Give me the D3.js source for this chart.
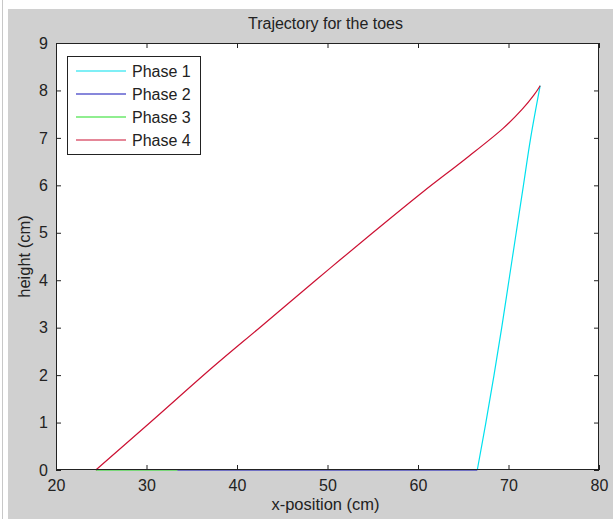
<!DOCTYPE html>
<html>
<head>
<meta charset="utf-8">
<script src="https://cdn.jsdelivr.net/npm/d3@7"></script>
<style>
  body { margin: 0; background: #fff; }
  svg { display: block; font-family: "Liberation Sans", Arial, sans-serif; }
</style>
</head>
<body>
<div id="chart"></div>
<script>
// series data (x-position cm, height cm)
var phase1X = [66.55, 67.5, 68.4, 69.25, 70.05, 70.85, 71.65, 72.45, 73.5];
var phase1Y = [0, 1, 2, 3, 4, 5, 6, 7, 8.1];
var phase2X = [33.4, 66.55];
var phase2Y = [0, 0];
var phase3X = [24.4, 33.4];
var phase3Y = [0, 0];
var phase4X = [73.5, 72.8, 71.5, 69.4, 65.2, 60.6, 55.0, 51.4, 48.7, 42.5, 37.4, 30.4, 24.4];
var phase4Y = [8.1, 7.9, 7.6, 7.2, 6.55, 5.87, 5.0, 4.43, 4.0, 3.0, 2.18, 1.0, 0];

var seriesNames = ["Phase 1", "Phase 2", "Phase 3", "Phase 4"];
var seriesColors = ["#00e0ee", "#1010b8", "#22dd22", "#cc1133"];
var xTicks = [20, 30, 40, 50, 60, 70, 80];
var yTicks = [0, 1, 2, 3, 4, 5, 6, 7, 8, 9];

var W = 613, H = 519;
var box = { left: 56, top: 43, right: 599, bottom: 470 };

var svg = d3.select("#chart").append("svg")
    .attr("width", W)
    .attr("height", H);

// figure background
svg.append("rect").attr("x", 0).attr("y", 0).attr("width", W).attr("height", H).attr("fill", "#fff");
svg.append("line").attr("x1", 2.5).attr("x2", 2.5).attr("y1", 0).attr("y2", H)
    .attr("stroke", "#c8c8c8").attr("stroke-width", 1);
svg.append("rect").attr("x", 8).attr("y", 9).attr("width", W - 8).attr("height", H - 9)
    .attr("fill", "#d0d0d0");

var x = d3.scaleLinear().domain([20, 80]).range([box.left, box.right]);
var y = d3.scaleLinear().domain([0, 9]).range([box.bottom, box.top]);

// plot area
svg.append("rect")
    .attr("x", box.left).attr("y", box.top)
    .attr("width", box.right - box.left).attr("height", box.bottom - box.top)
    .attr("fill", "#fff");

// axes, ticks inside, on all four sides
function styleAxis(g) {
    g.select(".domain").remove();
    g.selectAll(".tick line").attr("stroke", "#222");
    g.selectAll(".tick text").attr("fill", "#222").attr("font-size", 16)
        .attr("font-family", "Liberation Sans, Arial, sans-serif");
}

svg.append("g")
    .attr("transform", "translate(0," + box.bottom + ")")
    .call(d3.axisBottom(x).tickValues(xTicks).tickSize(-5).tickPadding(10))
    .call(styleAxis);

svg.append("g")
    .attr("transform", "translate(0," + box.top + ")")
    .call(d3.axisTop(x).tickValues(xTicks).tickSize(-5).tickFormat(""))
    .call(styleAxis);

svg.append("g")
    .attr("transform", "translate(" + box.left + ",0)")
    .call(d3.axisLeft(y).tickValues(yTicks).tickSize(-5).tickPadding(8))
    .call(styleAxis);

svg.append("g")
    .attr("transform", "translate(" + box.right + ",0)")
    .call(d3.axisRight(y).tickValues(yTicks).tickSize(-5).tickFormat(""))
    .call(styleAxis);

// lines
var data = [
    d3.zip(phase1X, phase1Y),
    d3.zip(phase2X, phase2Y),
    d3.zip(phase3X, phase3Y),
    d3.zip(phase4X, phase4Y)
];

var line = d3.line()
    .x(function(d) { return x(d[0]); })
    .y(function(d) { return y(d[1]); })
    .curve(d3.curveCatmullRom);

svg.selectAll(".curve")
    .data(data)
    .enter().append("path")
        .attr("class", "curve")
        .attr("fill", "none")
        .attr("stroke", function(d, i) { return seriesColors[i]; })
        .attr("stroke-width", 1.2)
        .attr("stroke-linejoin", "round")
        .attr("d", line);

// frame
svg.append("rect")
    .attr("x", box.left + 0.5).attr("y", box.top + 0.5)
    .attr("width", box.right - box.left - 1).attr("height", box.bottom - box.top - 1)
    .attr("fill", "none").attr("stroke", "#222").attr("stroke-width", 1);

// title and labels
svg.append("text")
    .attr("x", (box.left + box.right) / 2 - 2)
    .attr("y", 29)
    .attr("text-anchor", "middle")
    .attr("font-size", 16)
    .attr("fill", "#222")
    .text("Trajectory for the toes");

svg.append("text")
    .attr("x", (box.left + box.right) / 2 - 2)
    .attr("y", 510)
    .attr("text-anchor", "middle")
    .attr("font-size", 16.5)
    .attr("fill", "#222")
    .text("x-position (cm)");

svg.append("text")
    .attr("transform", "translate(30," + ((box.top + box.bottom) / 2) + ") rotate(-90)")
    .attr("text-anchor", "middle")
    .attr("font-size", 16.5)
    .attr("fill", "#222")
    .text("height (cm)");

// legend
var legend = svg.append("g").attr("transform", "translate(67,56)");
legend.append("rect")
    .attr("x", 0.5).attr("y", 0.5).attr("width", 133).attr("height", 98)
    .attr("fill", "#fff").attr("stroke", "#222").attr("stroke-width", 1);

var item = legend.selectAll(".item")
    .data(seriesNames)
    .enter().append("g")
        .attr("class", "item")
        .attr("transform", function(d, i) { return "translate(0," + (15 + i * 23) + ")"; });

item.append("line")
    .attr("x1", 9).attr("x2", 59).attr("y1", 0).attr("y2", 0)
    .attr("stroke", function(d, i) { return seriesColors[i]; })
    .attr("stroke-width", 1.2);

item.append("text")
    .attr("x", 65)
    .attr("dy", "0.36em")
    .attr("font-size", 16)
    .attr("fill", "#222")
    .text(function(d) { return d; });
</script>
</body>
</html>
